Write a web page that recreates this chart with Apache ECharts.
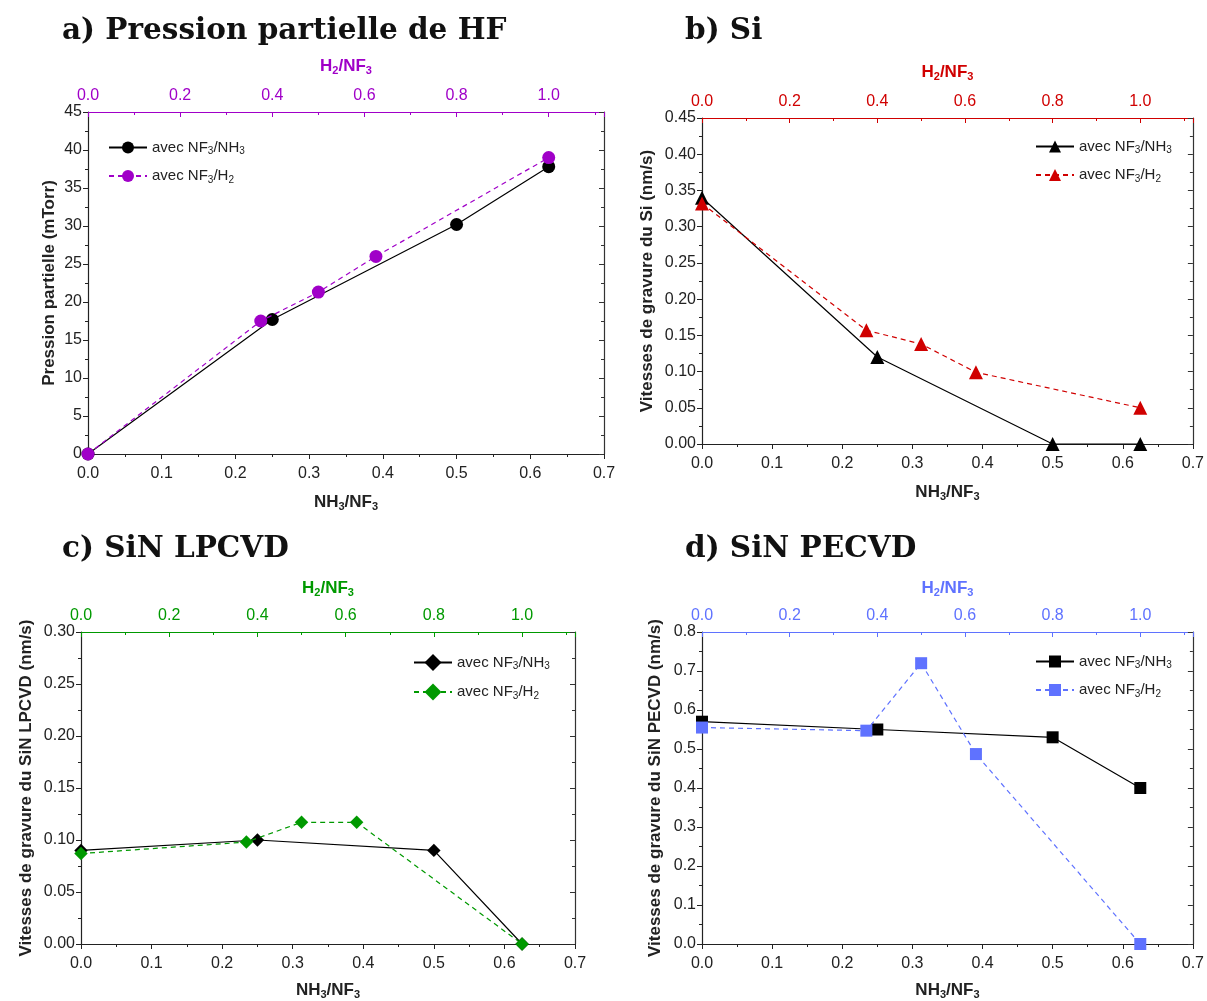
<!DOCTYPE html>
<html><head><meta charset="utf-8">
<script src="https://cdn.jsdelivr.net/npm/echarts@6/dist/echarts.min.js"></script>
<style>html,body{margin:0;padding:0;background:#fff}#c{width:1207px;height:1001px}</style>
</head><body><div id="c"></div>
<script>
// ---- data ----
const nh3Ratio = [0, 0.25, 0.5, 0.625];          // NH3/NF3 (bottom axis)
const h2Ratio  = [0, 0.375, 0.5, 0.625, 1.0];     // H2/NF3 (top axis)

const hfNH3 = [0, 17.7, 30.2, 37.8];
const hfH2  = [0, 17.5, 21.3, 26.0, 39.0];

const siNH3 = [0.340, 0.120, 0.0, 0.0];
const siH2  = [0.332, 0.157, 0.138, 0.099, 0.050];

const lpNH3 = [0.090, 0.100, 0.090, 0.0];
const lpH2  = [0.087, 0.098, 0.117, 0.117, 0.0];

const peNH3 = [0.570, 0.550, 0.530, 0.400];
const peH2  = [0.555, 0.547, 0.720, 0.487, 0.0];

const titles = ['a) Pression partielle de HF', 'b) Si', 'c) SiN LPCVD', 'd) SiN PECVD'];
const yNames = ['Pression partielle (mTorr)', 'Vitesses de gravure du Si (nm/s)',
                'Vitesses de gravure du SiN LPCVD (nm/s)', 'Vitesses de gravure du SiN PECVD (nm/s)'];
const legendNH3 = 'avec NF{s|3}/NH{s|3}';
const legendH2  = 'avec NF{s|3}/H{s|2}';

// ---- layout / style ----
const panels = [
  {grid:{left:88, top:112, width:516, height:342}, y:{min:0,max:45,interval:5,dec:0}, color:'#A000C8',
   nh3:hfNH3, h2:hfH2, symbol:'circle', size:13, rot:0, yGap:30, xGap:38, tGap:36,
   legend:{left:108, top:140}, title:{left:62, top:16}},
  {grid:{left:702, top:118, width:492, height:326}, y:{min:0,max:0.45,interval:0.05,dec:2}, color:'#D00000',
   nh3:siNH3, h2:siH2, symbol:'triangle', size:14, rot:0, yGap:46, xGap:38, tGap:36,
   legend:{left:1035, top:139}, title:{left:685, top:16}},
  {grid:{left:81, top:632, width:494, height:312}, y:{min:0,max:0.30,interval:0.05,dec:2}, color:'#009900',
   nh3:lpNH3, h2:lpH2, symbol:'rect', size:9.5, rot:45, yGap:46, xGap:36, tGap:34,
   legend:{left:413, top:654}, title:{left:62, top:534}},
  {grid:{left:702, top:632, width:492, height:312}, y:{min:0,max:0.8,interval:0.1,dec:1}, color:'#5F72FF',
   nh3:peNH3, h2:peH2, symbol:'rect', size:12, rot:0, yGap:38, xGap:36, tGap:34,
   legend:{left:1035, top:654}, title:{left:685, top:534}}
];

const FONT = 'Liberation Sans';
const subRich = (color, size) => ({
  n:{fontFamily:FONT, fontSize:size, fontWeight:'bold', color:color},
  s:{fontFamily:FONT, fontSize:Math.round(size*0.65), fontWeight:'bold', color:color, verticalAlign:'bottom', padding:[Math.round(size*0.55),0,0,0]}
});

const option = {animation:false, grid:[], xAxis:[], yAxis:[], series:[], legend:[], title:[]};

panels.forEach((p, i) => {
  option.grid.push(Object.assign({containLabel:false}, p.grid));
  option.title.push({text:titles[i], left:p.title.left, top:p.title.top, padding:0,
    textStyle:{fontFamily:'DejaVu Serif', fontWeight:'bold', fontSize:29.5, color:'#111'}});
  const xb = option.xAxis.length;
  // bottom NH3/NF3 axis
  option.xAxis.push({gridIndex:i, type:'value', position:'bottom', min:0, max:0.7, interval:0.1,
    name:'{n|NH}{s|3}{n|/NF}{s|3}', nameLocation:'middle', nameGap:p.xGap,
    nameTextStyle:{rich:subRich('#222',17)},
    axisLine:{onZero:false, lineStyle:{color:'#222', width:1.2}},
    axisTick:{show:true, length:5, lineStyle:{color:'#222'}},
    minorTick:{show:true, splitNumber:2, length:3, lineStyle:{color:'#222'}},
    splitLine:{show:false},
    axisLabel:{fontFamily:FONT, fontSize:16, color:'#222', margin:12, formatter:v=>v.toFixed(1)}});
  // top H2/NF3 axis
  option.xAxis.push({gridIndex:i, type:'value', position:'top', min:0, max:0.7/0.625, interval:0.2,
    name:'{n|H}{s|2}{n|/NF}{s|3}', nameLocation:'middle', nameGap:p.tGap,
    nameTextStyle:{rich:subRich(p.color,17)},
    axisLine:{onZero:false, lineStyle:{color:p.color, width:1.2}},
    axisTick:{show:true, inside:true, length:5, lineStyle:{color:p.color}},
    minorTick:{show:true, splitNumber:2, length:3, lineStyle:{color:p.color}},
    splitLine:{show:false},
    axisLabel:{fontFamily:FONT, fontSize:16, color:p.color, margin:8, showMaxLabel:false, formatter:v=>v.toFixed(1)}});
  const yl = option.yAxis.length;
  option.yAxis.push({gridIndex:i, type:'value', position:'left', min:p.y.min, max:p.y.max, interval:p.y.interval,
    name:yNames[i], nameLocation:'middle', nameGap:p.yGap,
    nameTextStyle:{fontFamily:FONT, fontSize:17, fontWeight:'bold', color:'#222'},
    axisLine:{show:true, onZero:false, lineStyle:{color:'#222', width:1.2}},
    axisTick:{show:true, length:5, lineStyle:{color:'#222'}},
    minorTick:{show:true, splitNumber:2, length:3, lineStyle:{color:'#222'}},
    splitLine:{show:false},
    axisLabel:{fontFamily:FONT, fontSize:16, color:'#222', margin:6, formatter:v=>v.toFixed(p.y.dec)}});
  option.yAxis.push({gridIndex:i, type:'value', position:'right', min:p.y.min, max:p.y.max, interval:p.y.interval,
    axisLine:{show:true, onZero:false, lineStyle:{color:'#333', width:1.2}},
    axisTick:{show:true, inside:true, length:5, lineStyle:{color:'#333'}},
    minorTick:{show:true, splitNumber:2, length:3, lineStyle:{color:'#333'}},
    splitLine:{show:false}, axisLabel:{show:false}});
  const nA = 'p'+i+'_nh3', nB = 'p'+i+'_h2';
  option.series.push({name:nA, type:'line', xAxisIndex:xb, yAxisIndex:yl,
    data:nh3Ratio.map((x,k)=>[x, p.nh3[k]]),
    symbol:p.symbol, symbolSize:p.size, symbolRotate:p.rot, showAllSymbol:true, clip:false,
    lineStyle:{color:'#000', width:1.2}, itemStyle:{color:'#000'}, z:3});
  option.series.push({name:nB, type:'line', xAxisIndex:xb+1, yAxisIndex:yl,
    data:h2Ratio.map((x,k)=>[x, p.h2[k]]),
    symbol:p.symbol, symbolSize:p.size, symbolRotate:p.rot, showAllSymbol:true, clip:false,
    lineStyle:{color:p.color, width:1.2, type:[5,4]}, itemStyle:{color:p.color}, z:4});
  option.legend.push({left:p.legend.left, top:p.legend.top, orient:'vertical', itemGap:12, padding:0,
    itemWidth:38, itemHeight:15, selectedMode:false, data:[nA, nB],
    formatter: name => name.endsWith('nh3') ? legendNH3 : legendH2,
    textStyle:{fontFamily:FONT, fontSize:15, color:'#222',
      rich:{s:{fontFamily:FONT, fontSize:10, color:'#222', verticalAlign:'bottom', padding:[8,0,0,0]}}}});
});

const chart = echarts.init(document.getElementById('c'), null, {renderer:'canvas'});
chart.setOption(option);
</script></body></html>
